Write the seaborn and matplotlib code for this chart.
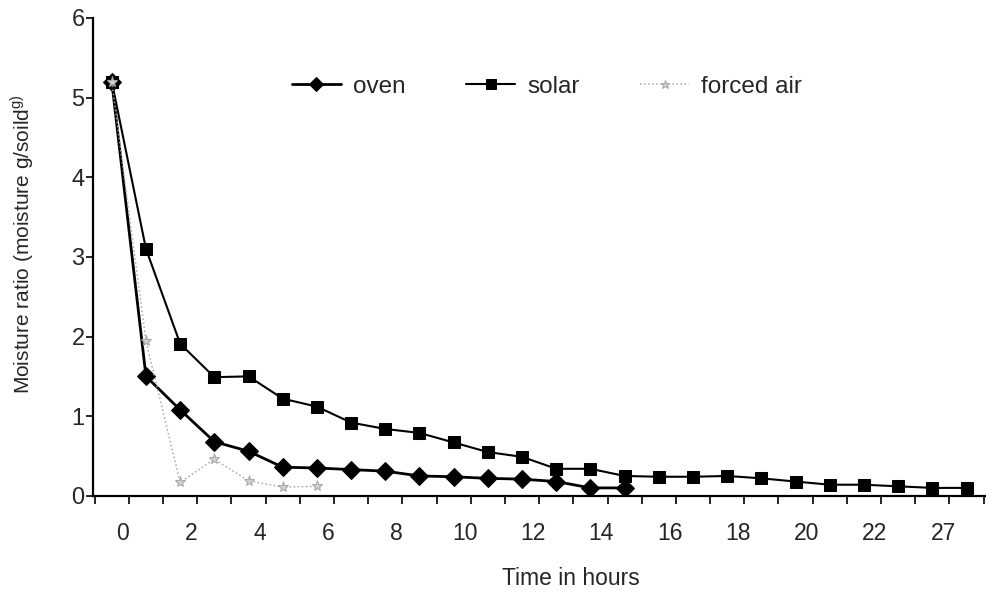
import matplotlib
matplotlib.use("Agg")
import matplotlib.pyplot as plt
import matplotlib.transforms as mtransforms
import seaborn as sns
import pandas as pd
import numpy as np

# ---- data ----
tick_labels = ["0", "2", "4", "6", "8", "10", "12", "14", "16", "18", "20", "22", "27"]
oven = [5.2, 1.5, 1.08, 0.68, 0.56, 0.36, 0.35, 0.33, 0.31, 0.25, 0.24, 0.22, 0.21, 0.18, 0.1, 0.1]
solar = [5.2, 3.1, 1.91, 1.49, 1.5, 1.22, 1.12, 0.92, 0.84, 0.79, 0.67, 0.55, 0.49, 0.34, 0.34,
         0.25, 0.24, 0.24, 0.25, 0.22, 0.18, 0.14, 0.14, 0.12, 0.1, 0.1]
forced_air = [5.2, 1.94, 0.17, 0.46, 0.19, 0.11, 0.12]

sns.set_theme(style="ticks")
plt.rcParams['font.family'] = ['Liberation Sans', 'DejaVu Sans']
plt.rcParams['mathtext.fontset'] = 'custom'
plt.rcParams['mathtext.rm'] = 'Liberation Sans'

fig = plt.figure(figsize=(9.86, 5.96), dpi=100)
ax = fig.add_axes([0.0943, 0.168, 0.905, 0.802])

df_oven = pd.DataFrame({"t": np.arange(len(oven)), "v": oven})
df_solar = pd.DataFrame({"t": np.arange(len(solar)), "v": solar})
df_forced = pd.DataFrame({"t": np.arange(len(forced_air)), "v": forced_air})

sns.lineplot(data=df_oven, x="t", y="v", ax=ax, color="black", lw=2.0,
             marker="D", markersize=9, markeredgecolor="black", label="oven")
sns.lineplot(data=df_solar, x="t", y="v", ax=ax, color="black", lw=1.5,
             marker="s", markersize=8.5, markeredgecolor="black", label="solar")
sns.lineplot(data=df_forced, x="t", y="v", ax=ax, color="#a8a8a8", lw=1.1,
             linestyle=":", marker="*", markersize=8, markeredgecolor="#a8a8a8",
             markerfacecolor="#d0d0d0", label="forced air")

n = len(solar)
ax.set_xlim(-0.55, n - 0.45)
ax.set_ylim(0, 6)

# major ticks: labels every other category; minor ticks: category boundaries
ax.set_xticks(np.arange(0, n, 2)[:len(tick_labels)])
ax.set_xticklabels(tick_labels, fontsize=16.5)
ax.set_xticks(np.arange(-0.5, n, 1.0), minor=True)
ax.tick_params(axis="x", which="major", length=0, pad=19)
ax.tick_params(axis="x", which="minor", length=6, width=1.2, direction="out", color="black")
offset = mtransforms.ScaledTranslation(11 / 100, 0, fig.dpi_scale_trans)
for lab in ax.get_xticklabels():
    lab.set_transform(lab.get_transform() + offset)

ax.set_yticks(range(0, 7))
ax.set_yticklabels([str(i) for i in range(0, 7)], fontsize=17)
ax.tick_params(axis="y", length=5, width=1.2, direction="out", color="black", pad=1)

for s in ["top", "right"]:
    ax.spines[s].set_visible(False)
for s in ["left", "bottom"]:
    ax.spines[s].set_color("black")
    ax.spines[s].set_linewidth(1.6)

ax.set_xlabel("Time in hours", fontsize=16.5)
ax.xaxis.set_label_coords(0.536, -0.148)
ax.set_ylabel(r"Moisture ratio (moisture g/soild$^{\mathrm{g)}}$", fontsize=15)
ax.yaxis.set_label_coords(-0.064, 0.527)

ax.legend(loc="center left", bbox_to_anchor=(0.2096, 0.856), ncol=3, frameon=False,
          fontsize=17.5, handlelength=2.0, handletextpad=0.5, columnspacing=2.5,
          borderpad=0, markerscale=0.8)

fig.savefig("out.png", dpi=100, facecolor="white")
